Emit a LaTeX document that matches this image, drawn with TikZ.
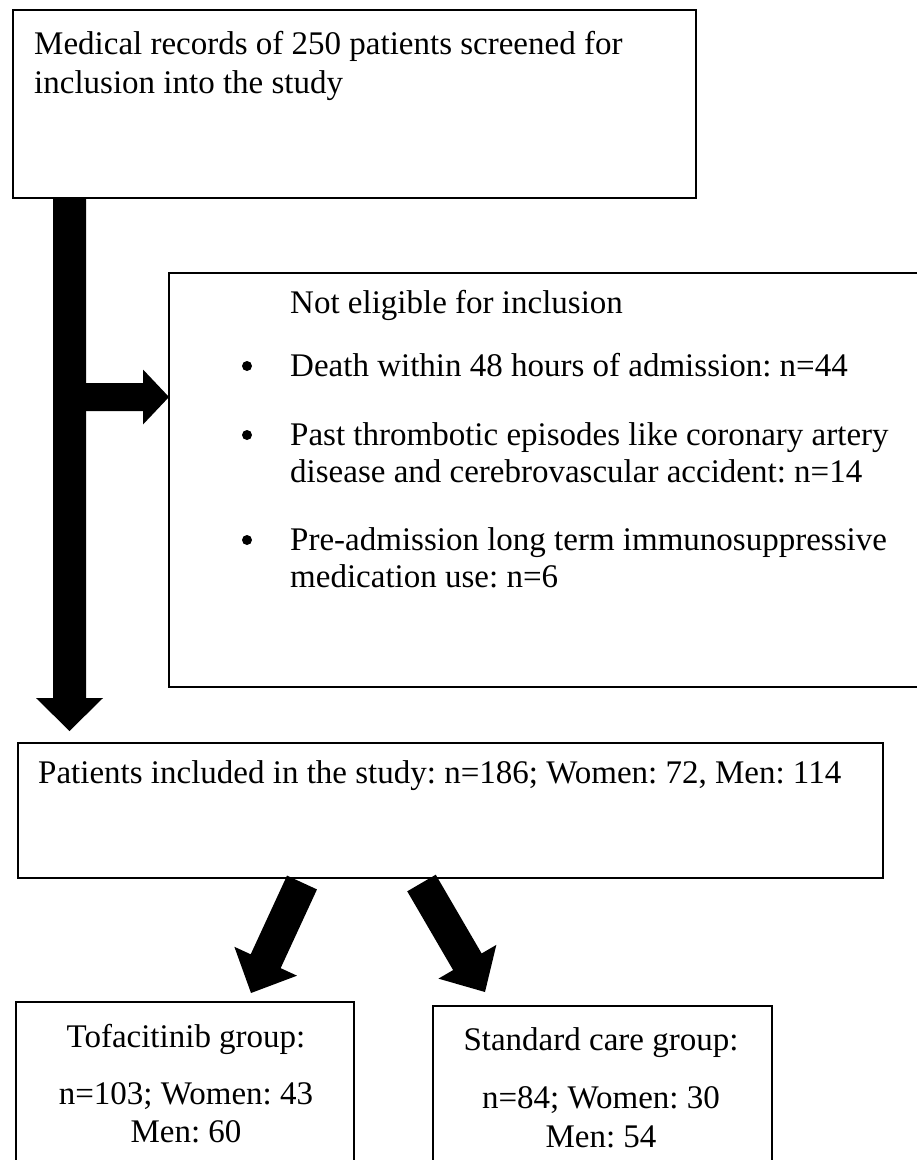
\documentclass[tikz,border=0pt]{standalone}
\usepackage{fontspec}
\setmainfont{Liberation Serif}
\usetikzlibrary{calc}
\frenchspacing
% block arrow: start, tip, shaft width, head width, head length
\newcommand\blockarrow[5]{%
  \fill[black] let \p1=($(#2)-(#1)$), \n1={atan2(\y1,\x1)}, \n2={veclen(\x1,\y1)} in
  [shift={(#1)}, rotate=\n1]
  (0,{-#3/2}) -- ({\n2-#5},{-#3/2}) -- ({\n2-#5},{-#4/2}) -- (\n2,0) --
  ({\n2-#5},{#4/2}) -- ({\n2-#5},{#3/2}) -- (0,{#3/2}) -- cycle;}
\begin{document}
\begin{tikzpicture}[x=1pt,y=1pt,
  box/.style={draw=black, line width=2pt, fill=none, rectangle, outer sep=0pt, inner sep=0pt, anchor=north west},
  txt/.style={inner sep=0pt, font=\fontsize{33}{38}\selectfont\frenchspacing, anchor=base west},
  ctxt/.style={txt, anchor=base},
  dot/.style={circle, fill=black, inner sep=0pt, minimum size=10pt}]
\useasboundingbox (0,0) rectangle (917,-1160);
\fill[white] (0,0) rectangle (917,-1160);
\clip (0,0) rectangle (917,-1160);

% boxes
\node[box, minimum width=683pt, minimum height=188pt] (screen) at (13,-10) {};
\node[box, minimum width=748.5pt, minimum height=414pt] (excl) at (169,-273) {};
\node[box, minimum width=865.5pt, minimum height=135pt] (incl) at (17.5,-743) {};
\node[box, minimum width=338pt, minimum height=220pt] (tofa) at (16,-1002) {};
\node[box, minimum width=339pt, minimum height=220pt] (stand) at (433,-1006) {};

% connector end points
\coordinate (a1s) at ($(screen.south west)+(56.5,0)$);
\coordinate (a1t) at ($(incl.north west)+(52,12)$);
\coordinate (a2t) at ($(excl.north west)+(0,-124)$);
\coordinate (a2s) at (a1s |- a2t);
\coordinate (a3s) at ($(incl.south west)+(284.5,-4.5)$);
\coordinate (a3t) at ($(tofa.north west)+(235,9)$);
\coordinate (a4s) at ($(incl.south west)+(404,-5)$);
\coordinate (a4t) at ($(stand.north west)+(52,14)$);

% connectors
\blockarrow{a1s}{a1t}{33}{67}{33}
\blockarrow{a2s}{a2t}{28}{55}{26}
\blockarrow{a3s}{a3t}{33}{69}{35}
\blockarrow{a4s}{a4t}{33}{67}{35}

% texts
\node[txt] (t1a) at (34,-54) {Medical records of 250 patients screened for};
\node[txt] (t1b) at (34,-93) {inclusion into the study};

\node[txt] (t2h) at (290,-313) {Not eligible for inclusion};
\node[dot] (b1) at (247,-366) {};
\node[txt] (t2a) at (290,-376) {Death within 48 hours of admission: n=44};
\node[dot] (b2) at (247,-435) {};
\node[txt] (t2b1) at (290,-445) {Past thrombotic episodes like coronary artery};
\node[txt] (t2b2) at (290,-482) {disease and cerebrovascular accident: n=14};
\node[dot] (b3) at (247,-540) {};
\node[txt] (t2c1) at (290,-550) {Pre-admission long term immunosuppressive};
\node[txt] (t2c2) at (290,-587) {medication use: n=6};

\node[txt] (t3) at (38,-783) {Patients included in the study: n=186; Women: 72, Men: 114};

\node[ctxt] (t4a) at (186,-1047) {Tofacitinib group:};
\node[ctxt] (t4b) at (186,-1104) {n=103; Women: 43};
\node[ctxt] (t4c) at (186,-1142) {Men: 60};

\node[ctxt] (t5a) at (601,-1050) {Standard care group:};
\node[ctxt] (t5b) at (601,-1108) {n=84; Women: 30};
\node[ctxt] (t5c) at (601,-1147) {Men: 54};
\end{tikzpicture}
\end{document}
